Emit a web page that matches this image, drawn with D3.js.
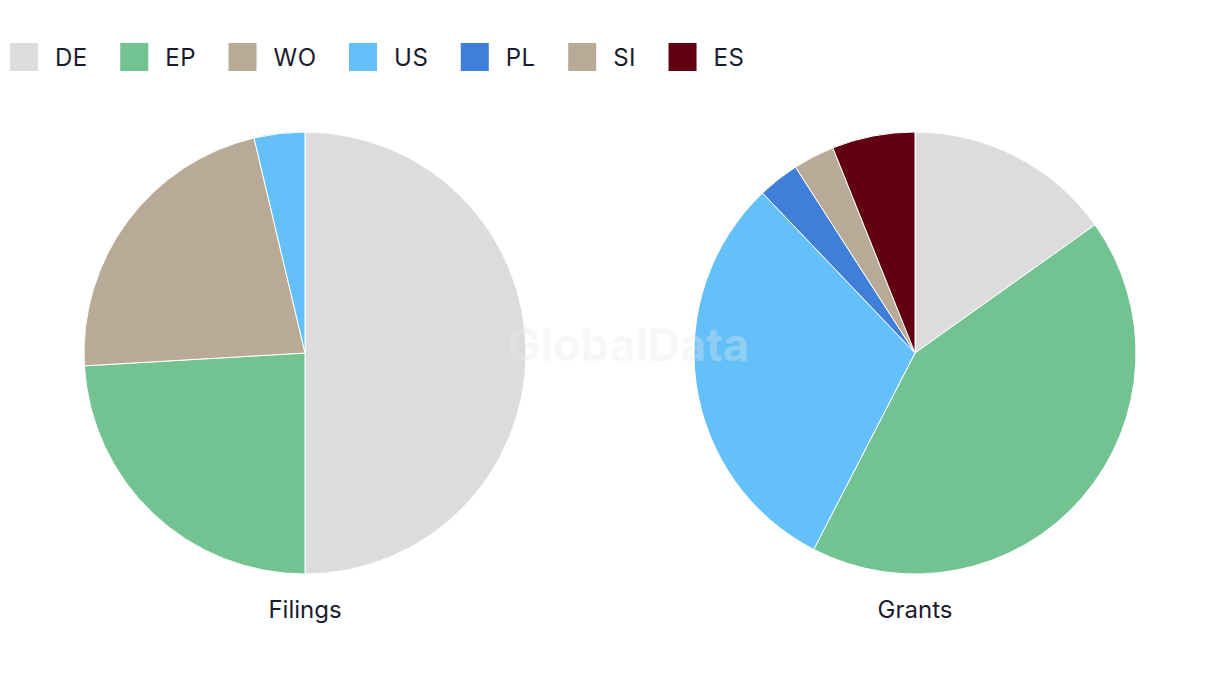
<!DOCTYPE html>
<html><head><meta charset="utf-8">
<script src="https://cdn.jsdelivr.net/npm/d3@7"></script>
<style>body{margin:0;background:#fff;} svg{display:block;font-family:Inter, "Noto Sans", sans-serif;}</style>
</head><body>
<svg id="c" width="1220" height="686"></svg>
<script>
const categories = ["DE","EP","WO","US","PL","SI","ES"];
const colors = ["#dcdcdc","#73c291","#b8aa96","#63c0f9","#3f7fd9","#b8aa96","#600010"];
const filingsValues = [27,13,12,2,0,0,0];
const grantsValues = [5,14,0,10,1,1,2];
const pieTitles = ["Filings","Grants"];

const svg = d3.select("#c");
const color = d3.scaleOrdinal().domain(categories).range(colors);

// legend
const leg = svg.append("g");
let x = 10;
categories.forEach(c => {
  const g = leg.append("g").attr("transform", `translate(${x},43)`);
  g.append("rect").attr("width",28).attr("height",28).attr("fill",color(c));
  const t = g.append("text").attr("x",45).attr("y",14).attr("dy","0.36em")
    .attr("font-size",24).attr("letter-spacing",0.5).attr("fill","#1b1b2f").text(c);
  x += 45 + t.node().getComputedTextLength() + 32.5;
});

const pie = d3.pie().sort(null).value(d => d.v);
const arc = d3.arc().innerRadius(0).outerRadius(221);
const centers = [305, 915];
[filingsValues, grantsValues].forEach((vals, i) => {
  const data = categories.map((c,j)=>({c, v: vals[j]})).filter(d=>d.v>0);
  const g = svg.append("g").attr("transform", `translate(${centers[i]},353)`);
  g.selectAll("path").data(pie(data)).join("path")
    .attr("d", arc).attr("fill", d => color(d.data.c))
    .attr("stroke","#fff").attr("stroke-width",1);
  svg.append("text").attr("x",centers[i]).attr("y",609).attr("dy","0.36em")
    .attr("text-anchor","middle").attr("font-size",24).attr("fill","#1b1b2f").text(pieTitles[i]);
});

svg.append("text").attr("x",628).attr("y",345).attr("dy","0.36em").attr("text-anchor","middle")
  .attr("font-size",45).attr("font-weight","bold").attr("fill","#e8e8e8").attr("fill-opacity",0.35)
  .text("GlobalData");
</script>
</body></html>
